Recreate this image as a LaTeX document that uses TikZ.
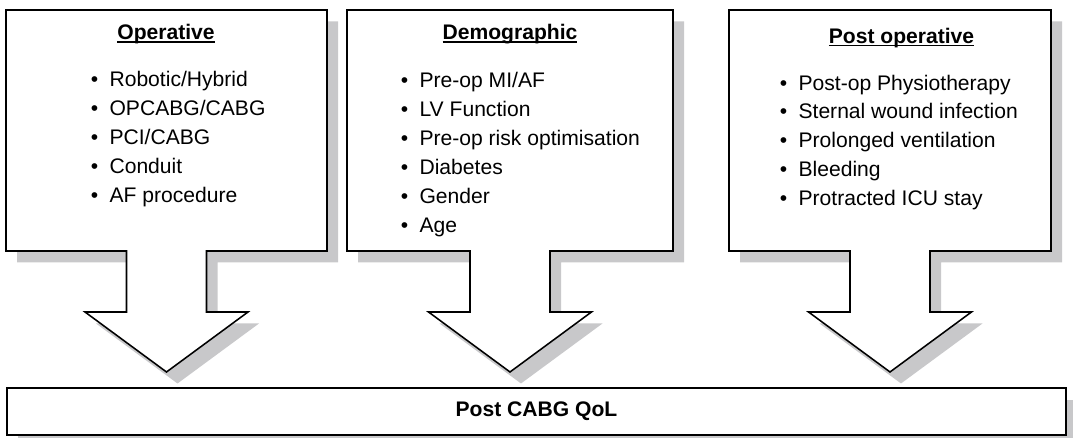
\documentclass[tikz,border=0pt]{standalone}
\usepackage{fontspec}
\setmainfont{Liberation Sans}
\usetikzlibrary{positioning,shadows}
\definecolor{shadowgray}{RGB}{200,200,202}
\newcommand{\headline}[1]{\setbox0=\hbox{\bfseries #1}\rlap{\rule[-0.13em]{\wd0}{0.07em}}\box0}

\begin{document}
\begin{tikzpicture}[
    x=0.025cm, y=0.025cm,
    every node/.style={font=\fontsize{15}{20.6}\selectfont},
    callout/.style={draw, line width=1.1pt, fill=white, line join=miter},
    heading/.style={anchor=base, inner sep=0pt},
    items/.style={anchor=base west, align=left, inner sep=0pt},
    result/.style={draw, line width=1.3pt, fill=white, minimum width=26.475cm, minimum height=1.175cm,
      font=\fontsize{15}{18}\selectfont\bfseries,
      drop shadow={shadow xshift=0.275cm, shadow yshift=-0.29cm, fill=shadowgray, opacity=1}}
  ]
    \useasboundingbox (0,0) rectangle (1073,438);
    % box with its arrow, gray copy behind it
    \foreach \c/\w in {166.5/160.5, 510/163, 890/161} {
      \fill[shadowgray, shift={(11,-11.5)}] (\c-\w,428) -- (\c+\w,428) -- (\c+\w,187) -- (\c+40,187) -- (\c+40,126)
        -- (\c+81.5,126) -- (\c,66) -- (\c-81.5,126) -- (\c-40,126) -- (\c-40,187) -- (\c-\w,187) -- cycle;
      \draw[callout] (\c-\w,428) -- (\c+\w,428) -- (\c+\w,187) -- (\c+40,187) -- (\c+40,126)
        -- (\c+81.5,126) -- (\c,66) -- (\c-81.5,126) -- (\c-40,126) -- (\c-40,187) -- (\c-\w,187) -- cycle;
    }
    \node[heading] (operative) at (166,398) {\headline{Operative}};
    \node[heading] (demographic) at (510,398) {\headline{Demographic}};
    \node[heading] (postop) at (901.5,394.7) {\headline{Post operative}};
    % base anchor sits on the last line
    \node[items] (operative list) at (90.7,235.4) {\textbullet\hspace{0.28cm}Robotic/Hybrid\\
      \textbullet\hspace{0.28cm}OPCABG/CABG\\ \textbullet\hspace{0.28cm}PCI/CABG\\
      \textbullet\hspace{0.28cm}Conduit\\ \textbullet\hspace{0.28cm}AF procedure};
    \node[items] (demographic list) at (400.7,205.5) {\textbullet\hspace{0.28cm}Pre-op MI/AF\\
      \textbullet\hspace{0.28cm}LV Function\\ \textbullet\hspace{0.28cm}Pre-op risk optimisation\\
      \textbullet\hspace{0.28cm}Diabetes\\ \textbullet\hspace{0.28cm}Gender\\ \textbullet\hspace{0.28cm}Age};
    \node[items] (postop list) at (779.7,232.1) {\textbullet\hspace{0.28cm}Post-op Physiotherapy\\
      \textbullet\hspace{0.28cm}Sternal wound infection\\ \textbullet\hspace{0.28cm}Prolonged ventilation\\
      \textbullet\hspace{0.28cm}Bleeding\\ \textbullet\hspace{0.28cm}Protracted ICU stay};
    \node[result] (qol) at (536.5,26.5) {Post CABG QoL};
  \end{tikzpicture}
\end{document}
